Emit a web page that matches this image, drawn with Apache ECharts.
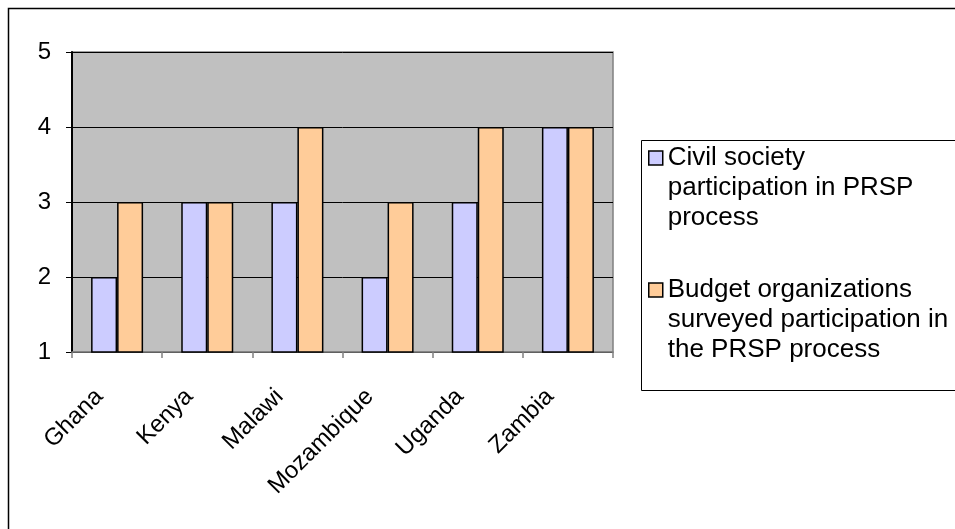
<!DOCTYPE html>
<html>
<head>
<meta charset="utf-8">
<style>
  html, body { margin: 0; padding: 0; background: #fff; }
  #chart { width: 955px; height: 529px; }
</style>
<script src="https://cdn.jsdelivr.net/npm/echarts@6/dist/echarts.min.js"></script>
</head>
<body>
<div id="chart"></div>
<script>
// Countries on the category axis
const countries = ['Ghana', 'Kenya', 'Malawi', 'Mozambique', 'Uganda', 'Zambia'];
// Participation scores (scale 1–5)
const civilSociety = [2, 3, 3, 2, 3, 4];
const budgetOrgs = [3, 3, 4, 3, 4, 4];
// Series names shown in the legend
const seriesNames = [
  'Civil society\nparticipation in PRSP\nprocess',
  'Budget organizations\nsurveyed participation in\nthe PRSP process'
];
const yTicks = { min: 1, max: 5, interval: 1 };

const FONT = '"Liberation Sans", Arial, sans-serif';
const chart = echarts.init(document.getElementById('chart'), null, { renderer: 'canvas' });

chart.setOption({
  animation: false,
  backgroundColor: '#ffffff',
  textStyle: { fontFamily: FONT, color: '#000' },
  graphic: [
    {
      // outer chart frame
      type: 'rect',
      shape: { x: 8.5, y: 8.5, width: 960, height: 540 },
      style: { fill: 'none', stroke: '#000', lineWidth: 1.5 },
      silent: true
    },
    {
      // legend frame
      type: 'rect',
      shape: { x: 641.5, y: 140.5, width: 400, height: 250 },
      style: { fill: 'none', stroke: '#000', lineWidth: 1 },
      silent: true
    }
  ],
  grid: {
    left: 72, right: 342, top: 52, bottom: 177,
    show: true,
    backgroundColor: '#C0C0C0',
    borderColor: '#808080',
    borderWidth: 1.5
  },
  legend: {
    orient: 'vertical',
    left: 648, top: 83,
    padding: 0,
    itemGap: -18,
    itemWidth: 14, itemHeight: 14,
    icon: 'rect',
    itemStyle: { borderColor: '#000', borderWidth: 1.5 },
    textStyle: { fontFamily: FONT, fontSize: 26, color: '#000', lineHeight: 30 },
    // two blank lines ahead of each name keep the icon level with the first text line
    formatter: function (name) { return '\n\n' + name; },
    data: seriesNames
  },
  xAxis: {
    type: 'category',
    data: countries,
    axisLine: { show: true, lineStyle: { color: '#808080', width: 1.5 } },
    axisTick: { show: true, length: 6, alignWithLabel: false, lineStyle: { color: '#808080', width: 1.5 } },
    axisLabel: {
      rotate: 45, fontSize: 24, fontFamily: FONT, color: '#000',
      margin: 40, interval: 0, verticalAlign: 'bottom',
      // trailing spaces pull each slanted name back toward its tick
      formatter: function (v) { return v + '  '; }
    },
    splitLine: { show: false }
  },
  yAxis: {
    type: 'value',
    min: yTicks.min, max: yTicks.max, interval: yTicks.interval,
    axisLine: { show: true, lineStyle: { color: '#000', width: 2 } },
    axisTick: { show: true, length: 6, lineStyle: { color: '#000', width: 1 } },
    axisLabel: { fontSize: 24, fontFamily: FONT, color: '#000', margin: 21 },
    splitLine: { show: true, lineStyle: { color: '#000', width: 1 } }
  },
  series: [
    {
      name: seriesNames[0],
      type: 'bar',
      data: civilSociety,
      barWidth: 26,
      barGap: '0%',
      itemStyle: { color: '#CCCCFF', borderColor: '#000', borderWidth: 1.5 }
    },
    {
      name: seriesNames[1],
      type: 'bar',
      data: budgetOrgs,
      barWidth: 26,
      barGap: '0%',
      itemStyle: { color: '#FFCC99', borderColor: '#000', borderWidth: 1.5 }
    }
  ]
});
</script>
</body>
</html>
